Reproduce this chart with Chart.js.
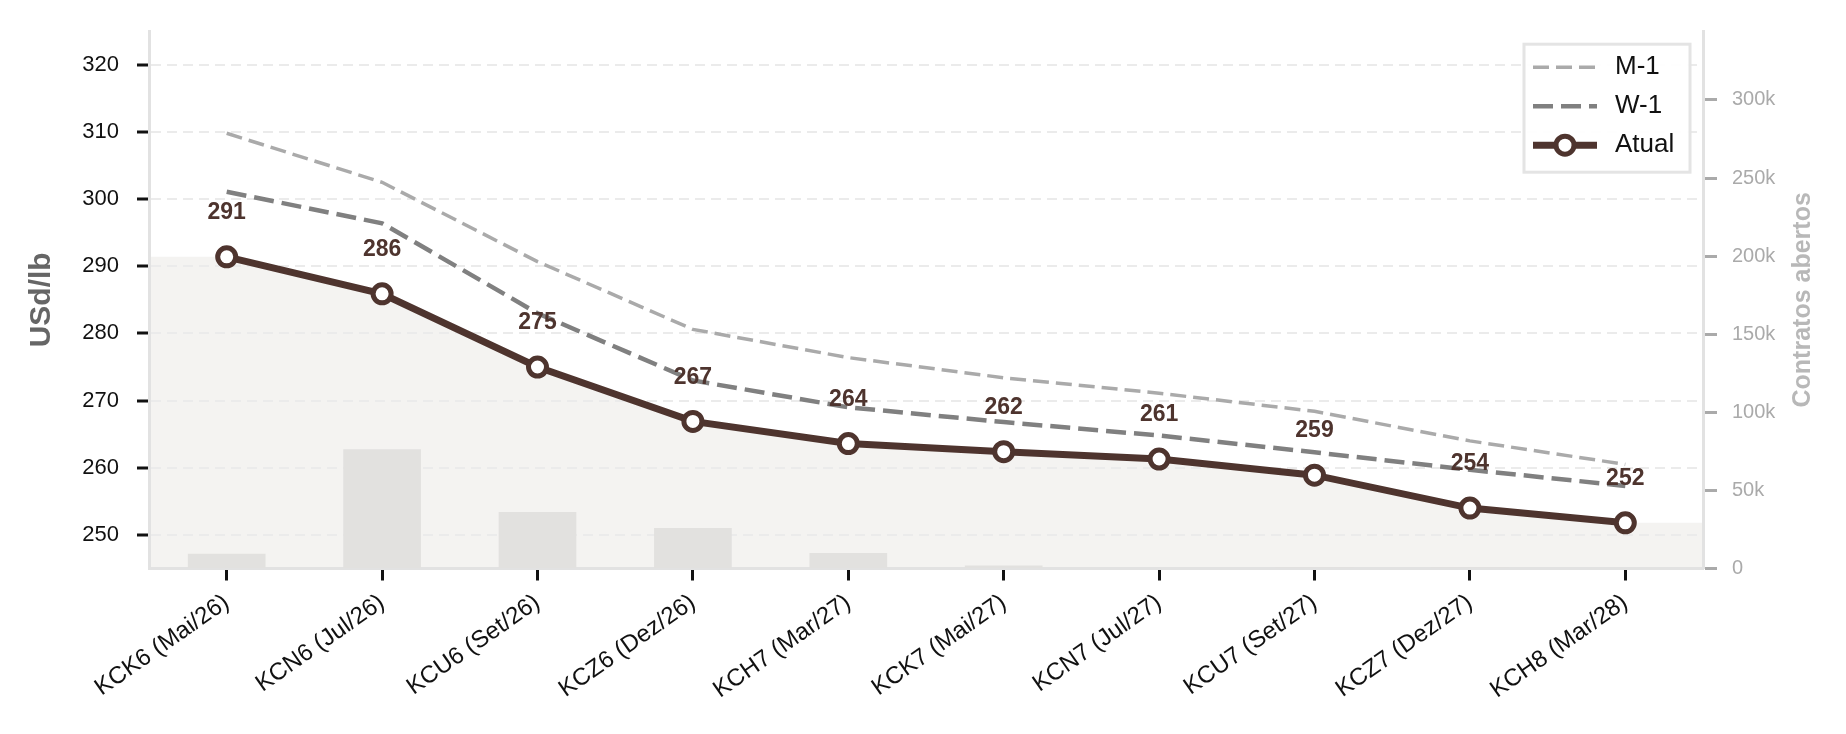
<!DOCTYPE html>
<html lang="pt-BR">
<head>
<meta charset="utf-8">
<title>Curva KC - Atual vs W-1 vs M-1</title>
<script src="https://cdn.jsdelivr.net/npm/chart.js@4.4.1/dist/chart.umd.min.js"></script>
<style>
    html, body { margin: 0; padding: 0; background: #fff; }
    #wrap { width: 1846px; height: 734px; }
</style>
</head>
<body>
<div id="wrap"><canvas id="curveChart" width="1846" height="734"></canvas></div>
<script>
// Vencimentos
const contracts = ['KCK6 (Mai/26)', 'KCN6 (Jul/26)', 'KCU6 (Set/26)', 'KCZ6 (Dez/26)', 'KCH7 (Mar/27)',
    'KCK7 (Mai/27)', 'KCN7 (Jul/27)', 'KCU7 (Set/27)', 'KCZ7 (Dez/27)', 'KCH8 (Mar/28)'];

// Precos (USd/lb)
const atual = [291.4, 285.9, 275.0, 266.9, 263.6, 262.4, 261.3, 258.9, 254.0, 251.8];
const weekAgo = [301.1, 296.4, 283.0, 273.0, 269.0, 266.8, 264.8, 262.3, 259.7, 257.3];
const monthAgo = [309.8, 302.5, 290.7, 280.6, 276.4, 273.4, 271.1, 268.4, 264.0, 260.5];

// Contratos abertos
const openInterest = [9400, 76400, 36200, 26000, 10000, 1900, 300, 800, 800, 200];

// Eixos
const priceTicks = [250, 260, 270, 280, 290, 300, 310, 320];
const oiTicks = [0, 50000, 100000, 150000, 200000, 250000, 300000];

const FONT = '"Liberation Sans", Arial, sans-serif';
const BROWN = '#4e342e';

Chart.defaults.font.family = FONT;

// Area sob a curva atual, estendida ate as bordas
const curveFill = {
    id: 'curveFill',
    beforeDraw(chart) {
        const pts = chart.getDatasetMeta(3).data;
        const a = chart.chartArea;
        const ctx = chart.ctx;
        ctx.save();
        ctx.beginPath();
        ctx.moveTo(a.left, a.bottom);
        ctx.lineTo(a.left, pts[0].y);
        pts.forEach(p => ctx.lineTo(p.x, p.y));
        ctx.lineTo(a.right, pts[pts.length - 1].y);
        ctx.lineTo(a.right, a.bottom);
        ctx.closePath();
        ctx.fillStyle = '#f4f3f1';
        ctx.fill();
        ctx.restore();
    }
};

// Rotulos de valor acima dos pontos
const valueLabels = {
    id: 'valueLabels',
    afterDatasetsDraw(chart) {
        const pts = chart.getDatasetMeta(3).data;
        const ctx = chart.ctx;
        ctx.save();
        ctx.font = 'bold 23px ' + FONT;
        ctx.fillStyle = BROWN;
        ctx.textAlign = 'center';
        ctx.textBaseline = 'middle';
        pts.forEach((p, i) => ctx.fillText(String(Math.round(atual[i])), p.x, p.y - 44));
        ctx.restore();
    }
};

// Titulos dos eixos e legenda
const decorations = {
    id: 'decorations',
    afterDraw(chart) {
        const ctx = chart.ctx;
        const a = chart.chartArea;
        const cy = (a.top + a.bottom) / 2;

        ctx.save();
        ctx.textAlign = 'center';
        ctx.textBaseline = 'middle';
        ctx.translate(42, cy);
        ctx.rotate(-Math.PI / 2);
        ctx.font = 'bold 30px ' + FONT;
        ctx.fillStyle = '#666666';
        ctx.fillText('USd/lb', 0, 0);
        ctx.restore();

        ctx.save();
        ctx.textAlign = 'center';
        ctx.textBaseline = 'middle';
        ctx.translate(1803, cy);
        ctx.rotate(-Math.PI / 2);
        ctx.font = 'bold 25px ' + FONT;
        ctx.fillStyle = '#b8b8b8';
        ctx.fillText('Contratos abertos', 0, 0);
        ctx.restore();

        // legenda
        const w = 166, h = 128;
        const x0 = a.right - 13 - w, y0 = a.top + 13;
        ctx.save();
        ctx.fillStyle = 'rgba(255,255,255,0.92)';
        ctx.fillRect(x0, y0, w, h);
        ctx.strokeStyle = '#e4e4e4';
        ctx.lineWidth = 3;
        ctx.strokeRect(x0, y0, w, h);

        [2, 1, 3].forEach((idx, row) => {
            const ds = chart.data.datasets[idx];
            const ry = y0 + 23 + row * 39;
            ctx.save();
            ctx.strokeStyle = ds.borderColor;
            ctx.lineWidth = ds.borderWidth;
            ctx.setLineDash(ds.borderDash || []);
            ctx.beginPath();
            ctx.moveTo(x0 + 9, ry);
            ctx.lineTo(x0 + 73, ry);
            ctx.stroke();
            ctx.restore();
            if (ds.pointRadius) {
                ctx.beginPath();
                ctx.arc(x0 + 41, ry, ds.pointRadius, 0, Math.PI * 2);
                ctx.fillStyle = ds.pointBackgroundColor;
                ctx.fill();
                ctx.lineWidth = ds.pointBorderWidth;
                ctx.strokeStyle = ds.pointBorderColor;
                ctx.stroke();
            }
            ctx.font = '26px ' + FONT;
            ctx.fillStyle = '#111';
            ctx.textAlign = 'left';
            ctx.textBaseline = 'middle';
            ctx.fillText(ds.label, x0 + 91, ry);
        });
        ctx.restore();
    }
};

const ctx = document.getElementById('curveChart').getContext('2d');
new Chart(ctx, {
    type: 'line',
    data: {
        labels: contracts,
        datasets: [{
            type: 'bar',
            label: 'Contratos abertos',
            data: openInterest,
            yAxisID: 'y1',
            backgroundColor: '#e2e1df',
            borderWidth: 0,
            barPercentage: 0.5,
            categoryPercentage: 1.0,
            order: 4
        }, {
            label: 'W-1',
            data: weekAgo,
            yAxisID: 'y',
            borderColor: '#808080',
            borderWidth: 4.5,
            borderDash: [20, 8],
            pointRadius: 0,
            tension: 0,
            order: 2
        }, {
            label: 'M-1',
            data: monthAgo,
            yAxisID: 'y',
            borderColor: '#aaaaaa',
            borderWidth: 3.5,
            borderDash: [16, 7],
            pointRadius: 0,
            tension: 0,
            order: 3
        }, {
            label: 'Atual',
            data: atual,
            yAxisID: 'y',
            borderColor: BROWN,
            borderWidth: 7,
            pointRadius: 9,
            pointBorderWidth: 5,
            pointBackgroundColor: '#ffffff',
            pointBorderColor: BROWN,
            tension: 0,
            order: 1
        }]
    },
    options: {
        responsive: false,
        animation: false,
        devicePixelRatio: 1,
        events: [],
        layout: { padding: { top: 27, left: 0, right: 0, bottom: 0 } },
        plugins: {
            legend: { display: false },
            tooltip: { enabled: false }
        },
        scales: {
            x: {
                type: 'category',
                offset: true,
                grid: {
                    offset: false,
                    drawOnChartArea: false,
                    tickLength: 12,
                    tickWidth: 3,
                    tickColor: '#111'
                },
                border: { color: '#e2e2e2', width: 3 },
                ticks: {
                    autoSkip: false,
                    minRotation: 35,
                    maxRotation: 35,
                    padding: 8,
                    color: '#111',
                    font: { size: 24 }
                },
                afterFit(scale) { scale.height = 165.5; }
            },
            y: {
                position: 'left',
                min: 245,
                max: 325,
                afterBuildTicks(scale) { scale.ticks = priceTicks.map(v => ({ value: v })); },
                grid: {
                    color: '#ebebeb',
                    lineWidth: 2,
                    tickLength: 12,
                    tickWidth: 3,
                    tickColor: '#111'
                },
                border: { color: '#e2e2e2', width: 3, dash: [10, 6] },
                ticks: { color: '#111', font: { size: 22 }, padding: 18 },
                afterFit(scale) { scale.width = 149; }
            },
            y1: {
                position: 'right',
                min: 0,
                max: 344000,
                afterBuildTicks(scale) { scale.ticks = oiTicks.map(v => ({ value: v })); },
                grid: {
                    drawOnChartArea: false,
                    tickLength: 14,
                    tickWidth: 3,
                    tickColor: '#aaaaaa'
                },
                border: { color: '#e2e2e2', width: 3 },
                ticks: {
                    color: '#aaaaaa',
                    font: { size: 20 },
                    padding: 15,
                    callback: v => v === 0 ? '0' : (v / 1000) + 'k'
                },
                afterFit(scale) { scale.width = 143; }
            }
        }
    },
    plugins: [curveFill, valueLabels, decorations]
});
</script>
</body>
</html>
